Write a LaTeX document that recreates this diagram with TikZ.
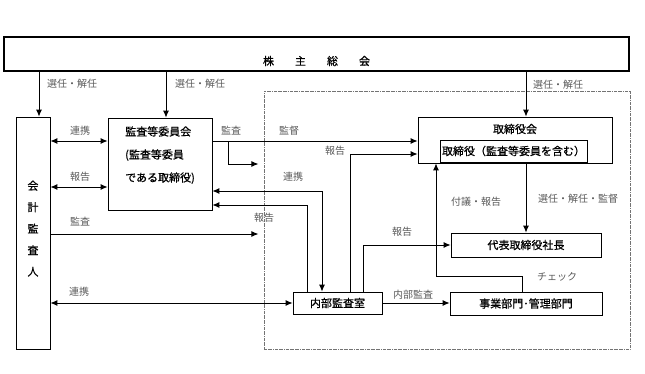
\documentclass[tikz,border=0pt]{standalone}
\usepackage{fontspec}
\setmainfont{Noto Sans CJK JP}
\newfontfamily\boxfont[FakeBold=0.7]{Noto Sans CJK JP}
\usetikzlibrary{arrows.meta, positioning, calc}
\tikzset{
	box/.style={rectangle, draw=black, line width=0.8pt, fill=white, align=center, inner sep=2pt, font=\boxfont\fontsize{11}{13}\selectfont},
	lbl/.style={text=black!65, inner sep=1pt, font=\fontsize{10}{12}\selectfont},
	arrow/.style={-{Latex[length=7pt,width=6pt]}, line width=0.9pt, draw=black},
	twoarrow/.style={{Latex[length=7pt,width=6pt]}-{Latex[length=7pt,width=6pt]}, line width=0.9pt, draw=black},
	region/.style={rectangle, draw=black!55, densely dash dot, line width=0.7pt},
}

\begin{document}
\begin{tikzpicture}[x=1pt, y=-1pt]
	\useasboundingbox (0,0) rectangle (645,373);
	% company side
	\node[region, minimum width=366pt, minimum height=258pt] (company) at (447,220) {};
	% boxes
	\node[box, line width=1.1pt, minimum width=625pt, minimum height=34pt, text height=24pt, text depth=1.6pt] (agm) at (316.5,54) {株\hspace{21pt}主\hspace{21pt}総\hspace{21pt}会};
	\node[box, minimum width=34pt, minimum height=232pt, font=\boxfont\fontsize{11}{21.5}\selectfont, text depth=9.5pt] (auditor) at (33,233) {会\\計\\監\\査\\人};
	\node[box, minimum width=104pt, minimum height=92pt, align=left, font=\boxfont\fontsize{11}{23}\selectfont, text depth=20pt] (kansa) at (160,164) {監査等委員会\\(監査等委員\\である取締役)};
	\node[box, minimum width=194pt, minimum height=46pt] (board) at (515,140) {};
	\node[font=\boxfont\fontsize{11}{13}\selectfont, inner sep=1pt] (boardname) at (515,129) {取締役会};
	\node[box, minimum width=143pt, minimum height=22pt] (directors) at (513.5,151) {取締役（監査等委員を含む）};
	\node[box, minimum width=150pt, minimum height=24pt] (ceo) at (526,245) {代表取締役社長};
	\node[box, minimum width=152pt, minimum height=23pt] (depts) at (526,303.5) {事業部門･管理部門};
	\node[box, minimum width=89pt, minimum height=22pt] (internal) at (337.5,303) {内部監査室};
	\coordinate (kansaend) at ([xshift=46pt]kansa.east);

	% from the shareholders
	\draw[arrow] ([xshift=6pt]auditor.north |- agm.south) -- ([xshift=6pt]auditor.north);
	\draw[arrow] ([xshift=6pt]kansa.north |- agm.south) -- ([xshift=6pt]kansa.north);
	\draw[arrow] (agm.south -| ceo.north) -- (board.north -| ceo.north);
	\draw[arrow] (board.south -| ceo.north) -- (ceo.north);
	% audit committee
	\draw[twoarrow] ([yshift=23pt]kansa.west) -- ([yshift=23pt]kansa.west -| auditor.east);
	\draw[twoarrow] ([yshift=-23pt]kansa.west) -- ([yshift=-23pt]kansa.west -| auditor.east);
	\draw[arrow] ([yshift=23pt]kansa.east) -- ([yshift=23pt]kansa.east -| board.west);
	\draw[arrow] ([xshift=16pt,yshift=23pt]kansa.east) |- (kansaend);
	\draw[twoarrow] ([yshift=-27pt]kansa.east) -| ([xshift=-15.5pt]internal.north);
	\draw[arrow] ([xshift=-30.5pt]internal.north) |- ([yshift=-41pt]kansa.east);
	% internal audit
	\draw[arrow] ([xshift=12.5pt]internal.north) |- ([yshift=-14pt]board.west);
	\draw[arrow] ([xshift=25.5pt]internal.north) |- (ceo.west);
	\draw[arrow] (internal.east) -- (internal.east -| depts.west);
	\draw[arrow] ([xshift=-4pt]depts.north) -- ++(0,-15) -| ([xshift=-79pt]board.south);
	% accounting auditor
	\draw[arrow] ([yshift=-1pt]auditor.east) -- ([yshift=-1pt]auditor.east -| kansaend);
	\draw[twoarrow] (internal.west) -- (internal.west -| auditor.east);

	% labels
	\node[lbl] (elect1) at (72,84) {選任・解任};
	\node[lbl] (elect2) at (200,84) {選任・解任};
	\node[lbl] (elect3) at (558,85) {選任・解任};
	\node[lbl] (link1) at (80,131) {連携};
	\node[lbl] (report1) at (80,177) {報告};
	\node[lbl] (audit1) at (231,131) {監査};
	\node[lbl] (supervise) at (289,131) {監督};
	\node[lbl] (report2) at (335,151) {報告};
	\node[lbl] (link2) at (293,177) {連携};
	\node[lbl] (report3) at (264,218) {報告};
	\node[lbl] (audit2) at (80,222) {監査};
	\node[lbl] (report4) at (402,232) {報告};
	\node[lbl] (propose) at (476,202) {付議・報告};
	\node[lbl] (elect4) at (578,199) {選任・解任・監督};
	\node[lbl] (check) at (557,277) {チェック};
	\node[lbl] (inaudit) at (413,295) {内部監査};
	\node[lbl] (link3) at (79,292) {連携};
\end{tikzpicture}
\end{document}
